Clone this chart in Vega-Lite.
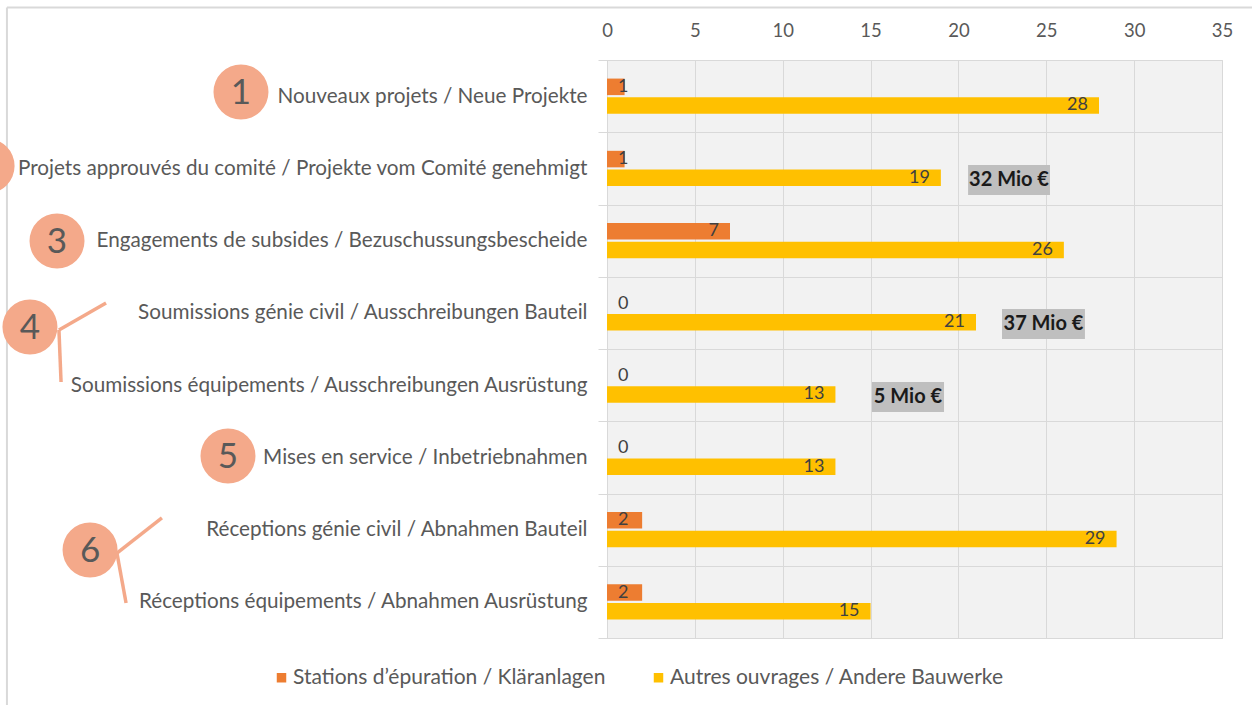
{
  "$schema": "https://vega.github.io/schema/vega-lite/v6.json",
  "width": 615,
  "height": 578,
  "autosize": {"type": "none"},
  "padding": {"left": 607, "top": 60, "right": 30, "bottom": 67},
  "background": "white",
  "config": {
    "view": {"fill": "#f2f2f2", "stroke": "#d9d9d9", "strokeWidth": 1},
    "font": "Lato"
  },
  "datasets": {
    "bars": [
      {"cat": "Nouveaux projets / Neue Projekte", "series": "Stations d’épuration / Kläranlagen", "v": 1},
      {"cat": "Nouveaux projets / Neue Projekte", "series": "Autres ouvrages / Andere Bauwerke", "v": 28},
      {"cat": "Projets approuvés du comité / Projekte vom Comité genehmigt", "series": "Stations d’épuration / Kläranlagen", "v": 1},
      {"cat": "Projets approuvés du comité / Projekte vom Comité genehmigt", "series": "Autres ouvrages / Andere Bauwerke", "v": 19},
      {"cat": "Engagements de subsides / Bezuschussungsbescheide", "series": "Stations d’épuration / Kläranlagen", "v": 7},
      {"cat": "Engagements de subsides / Bezuschussungsbescheide", "series": "Autres ouvrages / Andere Bauwerke", "v": 26},
      {"cat": "Soumissions génie civil / Ausschreibungen Bauteil", "series": "Stations d’épuration / Kläranlagen", "v": 0},
      {"cat": "Soumissions génie civil / Ausschreibungen Bauteil", "series": "Autres ouvrages / Andere Bauwerke", "v": 21},
      {"cat": "Soumissions équipements / Ausschreibungen Ausrüstung", "series": "Stations d’épuration / Kläranlagen", "v": 0},
      {"cat": "Soumissions équipements / Ausschreibungen Ausrüstung", "series": "Autres ouvrages / Andere Bauwerke", "v": 13},
      {"cat": "Mises en service / Inbetriebnahmen", "series": "Stations d’épuration / Kläranlagen", "v": 0},
      {"cat": "Mises en service / Inbetriebnahmen", "series": "Autres ouvrages / Andere Bauwerke", "v": 13},
      {"cat": "Réceptions génie civil / Abnahmen Bauteil", "series": "Stations d’épuration / Kläranlagen", "v": 2},
      {"cat": "Réceptions génie civil / Abnahmen Bauteil", "series": "Autres ouvrages / Andere Bauwerke", "v": 29},
      {"cat": "Réceptions équipements / Abnahmen Ausrüstung", "series": "Stations d’épuration / Kläranlagen", "v": 2},
      {"cat": "Réceptions équipements / Abnahmen Ausrüstung", "series": "Autres ouvrages / Andere Bauwerke", "v": 15}
    ],
    "circles": [
      {"num": "1", "x": -20.83, "r": 0.443},
      {"num": "2", "x": -35.28, "r": 1.467},
      {"num": "3", "x": -31.3, "r": 2.505},
      {"num": "4", "x": -32.84, "r": 3.696},
      {"num": "5", "x": -21.57, "r": 5.481},
      {"num": "6", "x": -29.42, "r": 6.782}
    ],
    "connectors": [
      {"x": -28.51, "x2": -31.19, "r": 3.363, "r2": 3.737},
      {"x": -31.19, "x2": -31.07, "r": 3.737, "r2": 4.457},
      {"x": -25.33, "x2": -27.89, "r": 6.339, "r2": 6.824},
      {"x": -27.89, "x2": -27.37, "r": 6.824, "r2": 7.516}
    ],
    "boxes": [
      {"label": "32 Mio €", "x": 20.55, "x2": 25.21, "xc": 22.88, "r": 1.453, "r2": 1.869, "rc": 1.661},
      {"label": "37 Mio €", "x": 22.48, "x2": 27.2, "xc": 24.84, "r": 3.446, "r2": 3.862, "rc": 3.654},
      {"label": "5 Mio €", "x": 15.08, "x2": 19.18, "xc": 17.13, "r": 4.457, "r2": 4.872, "rc": 4.664}
    ],
    "frame": [
      {"x": -34.15, "x2": 40, "r": -0.727, "r2": -0.727},
      {"x": -34.15, "x2": -34.15, "r": -0.727, "r2": 9}
    ]
  },
  "resolve": {"scale": {"y": "independent", "x": "independent"}},
  "layer": [
    {
      "data": {"name": "bars"},
      "encoding": {
        "y": {
          "field": "cat", "type": "nominal", "sort": null,
          "scale": {"paddingInner": 0, "paddingOuter": 0},
          "axis": {
            "title": null, "labelFont": "Lato", "labelFontSize": 20.7, "labelColor": "#595959",
            "labelLimit": 0, "labelPadding": 11, "tickBand": "extent", "tickSize": 9,
            "tickColor": "#d9d9d9", "domainColor": "#d9d9d9", "grid": true, "gridColor": "#d9d9d9"
          }
        },
        "yOffset": {
          "field": "series", "type": "nominal", "sort": null,
          "scale": {"paddingInner": 0.11, "paddingOuter": 1.12}
        }
      },
      "layer": [
        {
          "mark": {"type": "bar"},
          "encoding": {
            "x": {
              "field": "v", "type": "quantitative",
              "scale": {"domain": [0, 35], "nice": false},
              "axis": {
                "orient": "top", "title": null, "values": [0, 5, 10, 15, 20, 25, 30, 35],
                "ticks": false, "domain": false, "labelPadding": 20, "labelFlush": false,
                "labelFont": "Lato", "labelFontSize": 18.5, "labelColor": "#595959",
                "grid": true, "gridColor": "#d9d9d9"
              }
            },
            "color": {
              "field": "series", "type": "nominal", "sort": null,
              "scale": {
                "domain": ["Stations d’épuration / Kläranlagen", "Autres ouvrages / Andere Bauwerke"],
                "range": ["#ed7d31", "#ffc000"]
              },
              "legend": {
                "orient": "none", "legendX": -336, "legendY": 607, "direction": "horizontal",
                "title": null, "symbolType": "square", "symbolSize": 90, "symbolStrokeWidth": 0,
                "labelFont": "Lato", "labelFontSize": 21, "labelColor": "#595959",
                "columnPadding": 42, "labelOffset": 1, "labelLimit": 0
              }
            }
          }
        },
        {
          "transform": [{"filter": "datum.v >= 5"}],
          "mark": {"type": "text", "align": "right", "baseline": "middle", "dx": -11, "fontSize": 18, "color": "#404040"},
          "encoding": {
            "x": {
              "field": "v", "type": "quantitative",
              "scale": {"domain": [0, 35], "nice": false},
              "axis": {
                "orient": "top", "title": null, "values": [0, 5, 10, 15, 20, 25, 30, 35],
                "ticks": false, "domain": false, "labelPadding": 20, "labelFlush": false,
                "labelFont": "Lato", "labelFontSize": 18.5, "labelColor": "#595959",
                "grid": true, "gridColor": "#d9d9d9"
              }
            },
            "text": {"field": "v", "type": "quantitative"}
          }
        },
        {
          "transform": [{"filter": "datum.v < 5"}],
          "mark": {"type": "text", "align": "left", "baseline": "middle", "dx": 11, "fontSize": 18, "color": "#404040"},
          "encoding": {
            "x": {
              "datum": 0, "type": "quantitative",
              "scale": {"domain": [0, 35], "nice": false},
              "axis": {
                "orient": "top", "title": null, "values": [0, 5, 10, 15, 20, 25, 30, 35],
                "ticks": false, "domain": false, "labelPadding": 20, "labelFlush": false,
                "labelFont": "Lato", "labelFontSize": 18.5, "labelColor": "#595959",
                "grid": true, "gridColor": "#d9d9d9"
              }
            },
            "text": {"field": "v", "type": "quantitative"}
          }
        }
      ]
    },
    {
      "layer": [
        {
          "data": {"name": "frame"},
          "mark": {"type": "rule", "color": "#d9d9d9", "strokeWidth": 2},
          "encoding": {
            "x": {"field": "x", "type": "quantitative", "scale": {"domain": [0, 35], "nice": false}, "axis": null},
            "x2": {"field": "x2"},
            "y": {"field": "r", "type": "quantitative", "scale": {"domain": [0, 8], "reverse": true, "nice": false, "zero": false}, "axis": null},
            "y2": {"field": "r2"}
          }
        },
        {
          "data": {"name": "connectors"},
          "mark": {"type": "rule", "color": "#f4a98a", "strokeWidth": 3.5},
          "encoding": {
            "x": {"field": "x", "type": "quantitative", "scale": {"domain": [0, 35], "nice": false}, "axis": null},
            "x2": {"field": "x2"},
            "y": {"field": "r", "type": "quantitative", "scale": {"domain": [0, 8], "reverse": true, "nice": false, "zero": false}, "axis": null},
            "y2": {"field": "r2"}
          }
        },
        {
          "data": {"name": "circles"},
          "mark": {"type": "point", "shape": "circle", "filled": true, "size": 3025, "color": "#f4a98a", "opacity": 1},
          "encoding": {
            "x": {"field": "x", "type": "quantitative", "scale": {"domain": [0, 35], "nice": false}, "axis": null},
            "y": {"field": "r", "type": "quantitative", "scale": {"domain": [0, 8], "reverse": true, "nice": false, "zero": false}, "axis": null}
          }
        },
        {
          "data": {"name": "circles"},
          "mark": {"type": "text", "align": "center", "baseline": "middle", "fontSize": 35, "color": "#595959", "dy": 1},
          "encoding": {
            "x": {"field": "x", "type": "quantitative", "scale": {"domain": [0, 35], "nice": false}, "axis": null},
            "y": {"field": "r", "type": "quantitative", "scale": {"domain": [0, 8], "reverse": true, "nice": false, "zero": false}, "axis": null},
            "text": {"field": "num"}
          }
        },
        {
          "data": {"name": "boxes"},
          "mark": {"type": "rect", "color": "#bfbfbf"},
          "encoding": {
            "x": {"field": "x", "type": "quantitative", "scale": {"domain": [0, 35], "nice": false}, "axis": null},
            "x2": {"field": "x2"},
            "y": {"field": "r", "type": "quantitative", "scale": {"domain": [0, 8], "reverse": true, "nice": false, "zero": false}, "axis": null},
            "y2": {"field": "r2"}
          }
        },
        {
          "data": {"name": "boxes"},
          "mark": {"type": "text", "align": "center", "baseline": "middle", "fontSize": 20, "fontWeight": "bold", "color": "#1a1a1a"},
          "encoding": {
            "x": {"field": "xc", "type": "quantitative", "scale": {"domain": [0, 35], "nice": false}, "axis": null},
            "y": {"field": "rc", "type": "quantitative", "scale": {"domain": [0, 8], "reverse": true, "nice": false, "zero": false}, "axis": null},
            "text": {"field": "label"}
          }
        }
      ]
    }
  ]
}
